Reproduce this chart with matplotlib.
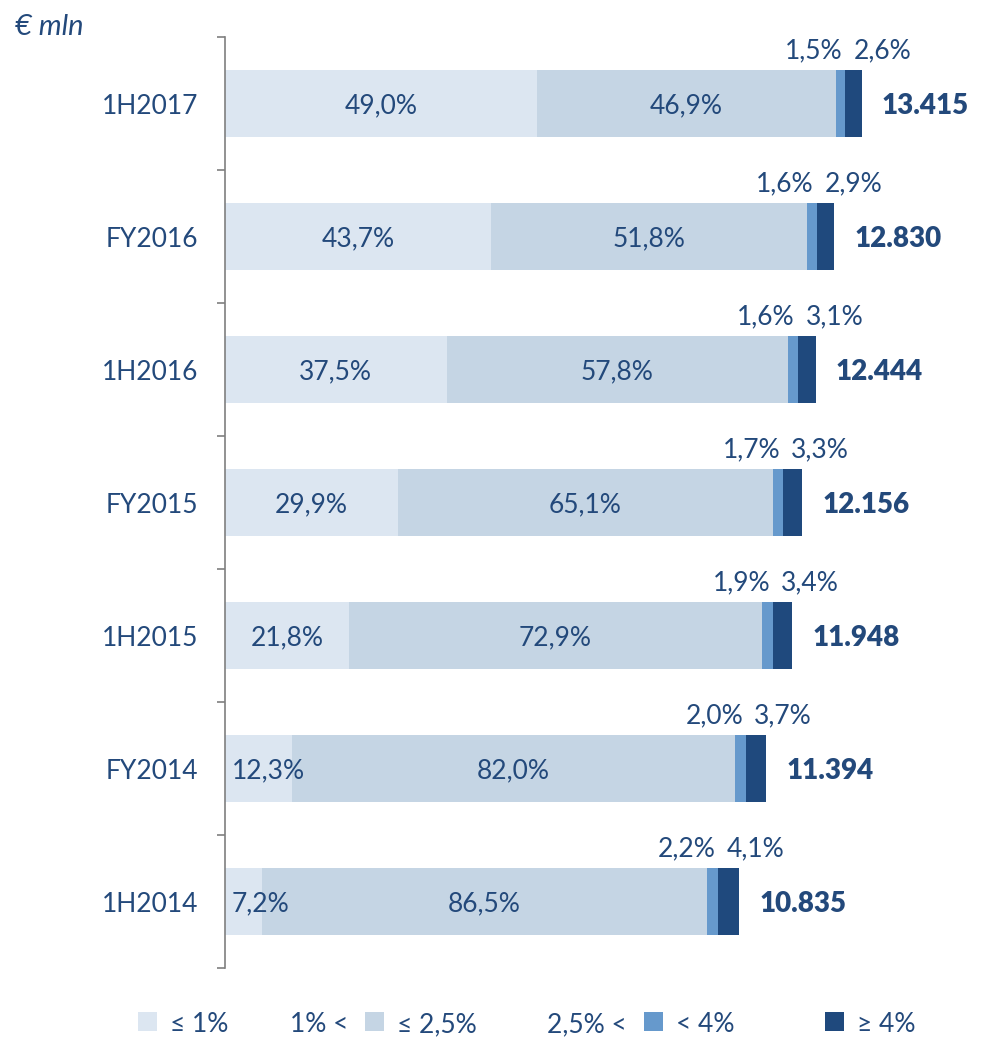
import numpy as np
import matplotlib.pyplot as plt
from matplotlib.patches import Rectangle

plt.rcParams['font.family'] = ['Lato', 'DejaVu Sans']

periods = ['1H2017', 'FY2016', '1H2016', 'FY2015', '1H2015', 'FY2014', '1H2014']
totals = [13415, 12830, 12444, 12156, 11948, 11394, 10835]
share_le1 = [49.0, 43.7, 37.5, 29.9, 21.8, 12.3, 7.2]
share_1_25 = [46.9, 51.8, 57.8, 65.1, 72.9, 82.0, 86.5]
share_25_4 = [1.5, 1.6, 1.6, 1.7, 1.9, 2.0, 2.2]
share_ge4 = [2.6, 2.9, 3.1, 3.3, 3.4, 3.7, 4.1]

legend_prefix = ['', '1% <', '2,5% <', '']
legend_labels = ['≤ 1%', '≤ 2,5%', '< 4%', '≥ 4%']

colors = ['#dce6f1', '#c5d5e4', '#6699cc', '#1f497d']
txt = '#23497b'
W, H = 1007, 1037


def pct(v):
    return f'{v:.1f}%'.replace('.', ',')


fig = plt.figure(figsize=(W / 100, H / 100), dpi=100)
ax = fig.add_axes([225 / W, 1 - 968 / H, 1 - 225 / W, 931 / H])

shares = np.array([share_le1, share_1_25, share_25_4, share_ge4])
tot = np.array(totals, dtype=float)
y = np.arange(len(periods))
bar_h = 0.51

left = np.zeros(len(periods))
seg_left = []
for k in range(4):
    width = tot * shares[k] / 100
    ax.barh(y, width, left=left, height=bar_h, color=colors[k], linewidth=0)
    seg_left.append(left.copy())
    left = left + width

px_per_unit = (863 - 226) / 13415
ax.set_xlim(0, (W - 225) / px_per_unit)
ax.set_ylim(len(periods) - 0.5, -0.5)

for s in ['top', 'right', 'bottom']:
    ax.spines[s].set_visible(False)
ax.spines['left'].set_color('#7f7f7f')
ax.spines['left'].set_linewidth(1.2)
ax.set_xticks([])
ax.set_yticks(np.arange(-0.5, len(periods), 1))
ax.set_yticklabels([])
ax.tick_params(axis='y', length=6, width=1.2, color='#7f7f7f')

fs = 19
for i, name in enumerate(periods):
    ax.annotate(name, xy=(0, i), xycoords=('axes fraction', 'data'),
                xytext=(-27, -10), textcoords='offset pixels',
                ha='right', va='baseline', fontsize=fs, color=txt)

    # labels inside the two wide segments
    for k in range(2):
        x0 = seg_left[k][i]
        w = tot[i] * shares[k][i] / 100
        cx = x0 + w / 2
        half_px = 37
        if w * px_per_unit / 2 < half_px + 6:
            ax.annotate(pct(shares[k][i]), xy=(x0, i), xytext=(7, -10),
                        textcoords='offset pixels', ha='left', va='baseline',
                        fontsize=fs, color=txt)
        else:
            ax.annotate(pct(shares[k][i]), xy=(cx, i), xytext=(0, -10),
                        textcoords='offset pixels', ha='center', va='baseline',
                        fontsize=fs, color=txt)

    # small segments labelled above the bar
    x4 = seg_left[3][i]
    ax.annotate(pct(shares[2][i]), xy=(x4, i - bar_h / 2), xytext=(-3, 11),
                textcoords='offset pixels', ha='right', va='baseline',
                fontsize=fs, color=txt)
    ax.annotate(pct(shares[3][i]), xy=(x4, i - bar_h / 2), xytext=(8, 11),
                textcoords='offset pixels', ha='left', va='baseline',
                fontsize=fs, color=txt)

    # total amount
    ax.annotate(f'{totals[i]:,}'.replace(',', '.'), xy=(tot[i], i),
                xytext=(20, -10), textcoords='offset pixels', ha='left',
                va='baseline', fontsize=20, fontweight='heavy', color=txt)

fig.text(15 / W, 1 - 35 / H, '€ mln', fontsize=21, fontstyle='italic',
         color=txt, ha='left', va='baseline')

# legend drawn by hand: "1% <" and "2,5% <" sit in front of their keys
sq_left = [138, 365, 644, 825]
sq = 19
base = 1 - 1032 / H
for k in range(4):
    x = sq_left[k]
    fig.patches.append(Rectangle((x / W, 1 - 1031 / H), sq / W, sq / H,
                                 transform=fig.transFigure, color=colors[k],
                                 linewidth=0))
    fig.text((x + sq + 13) / W, base, legend_labels[k], fontsize=fs,
             color=txt, ha='left', va='baseline')
    if legend_prefix[k]:
        fig.text((x - 17) / W, base, legend_prefix[k], fontsize=fs,
                 color=txt, ha='right', va='baseline')

fig.savefig('out.png', dpi=100, facecolor='white')
